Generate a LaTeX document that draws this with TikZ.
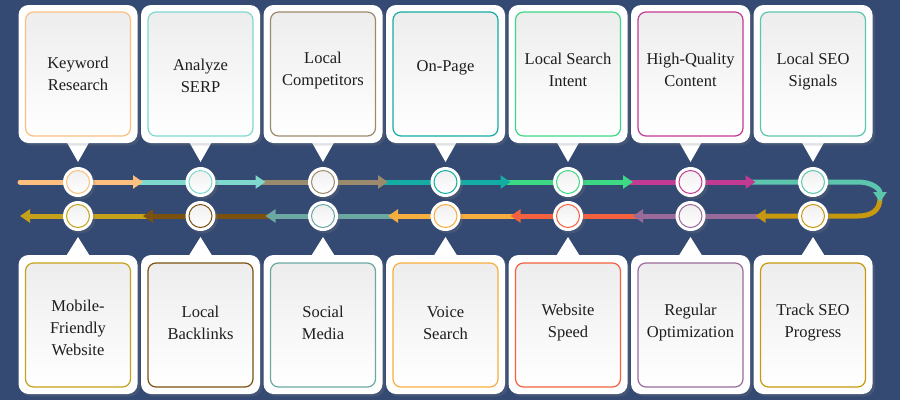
\documentclass[tikz,border=0pt]{standalone}
\usepackage{fontspec}
\setmainfont{Liberation Serif}
\usetikzlibrary{arrows.meta,calc,positioning,shadows}
\definecolor{bgblue}{HTML}{344A72}
\definecolor{textgray}{HTML}{1E1E1E}
\definecolor{cKey}{HTML}{FDBF80}
\definecolor{cSerp}{HTML}{7ED8CE}
\definecolor{cComp}{HTML}{9C8A6C}
\definecolor{cPage}{HTML}{14ADA3}
\definecolor{cIntent}{HTML}{3DD883}
\definecolor{cCont}{HTML}{C23A92}
\definecolor{cSig}{HTML}{5CC6AD}
\definecolor{cTrack}{HTML}{C8980E}
\definecolor{cOpt}{HTML}{9A6B9A}
\definecolor{cSpeed}{HTML}{F4613E}
\definecolor{cVoice}{HTML}{F8AE3E}
\definecolor{cSoc}{HTML}{6BA8A2}
\definecolor{cBack}{HTML}{7B5110}
\definecolor{cMob}{HTML}{C6A11A}
\tikzset{>=latex,
  seg/.style={line width=5pt,-{Triangle[length=10pt,width=13pt]}},
  boxshade/.style={drop shadow={shadow xshift=2.5pt,shadow yshift=-2.5pt,opacity=.22}},
  outerbox/.style={fill=white,rounded corners=10pt,minimum width=119pt,boxshade},
  innerbox/.style={rounded corners=8pt,line width=1.2pt,minimum width=105pt,minimum height=124pt,
    top color=black!7,bottom color=white},
  lbl/.style={align=center,text=textgray,font=\fontsize{16.5}{22}\selectfont},
  stop/.style={circle,fill=white,minimum size=30pt,inner sep=0pt,boxshade}
}
\begin{document}
\begin{tikzpicture}[x=1pt,y=-1pt]
\fill[bgblue] (0,0) rectangle (900,400);
% segment ends of the two arrow rows
\foreach \k in {1,...,6}{
  \coordinate (a\k) at (20.5+122.5*\k,182);
  \coordinate (b\k) at (20.5+122.5*\k,216);
}
\coordinate (a0) at (20,182);
\coordinate (b0) at (20,216);
\coordinate (a7) at (858,182);
\coordinate (b7) at (858,216);
\coordinate (turnA) at (880,202);
\coordinate (turnB) at (880,198);
% lower row, right to left
\draw[seg,cMob] ($(b1)+(4,0)$) -- (b0);
\foreach \j/\i/\c in {2/1/cBack,3/2/cSoc,4/3/cVoice,5/4/cSpeed,6/5/cOpt}
  \draw[seg,\c] ($(b\j)+(4,0)$) -- (b\i);
\draw[seg,cTrack] (turnB) .. controls (880,210) and (872,216) .. (b7) -- (b6);
% upper row, left to right
\draw[seg,cSig] ($(a6)+(-4,0)$) -- (a7) .. controls (872,182) and (880,189) .. (turnA);
\foreach \i/\j/\c in {6/5/cCont,5/4/cIntent,4/3/cPage,3/2/cComp,2/1/cSerp}
  \draw[seg,\c] ($(a\j)+(-4,0)$) -- (a\i);
\draw[seg,cKey,line cap=round] (a0) -- (a1);
% upper boxes
\foreach \i/\c/\dy/\txt in {1/cKey/4/{Keyword\\Research},2/cSerp/6/{Analyze\\SERP},3/cComp/1/{Local\\Competitors},
    4/cPage/-2/{On-Page},5/cIntent/0/{Local Search\\Intent},6/cCont/0/{High-Quality\\Content},7/cSig/2/{Local SEO\\Signals}}{
  \pgfmathsetmacro\cx{78+122.5*(\i-1)}
  \node[stop] (u\i) at (\cx,182) {};
  \draw[\c,line width=1pt,top color=black!6,bottom color=white] (u\i) circle (11.5);
  \fill[white] ($(u\i)+(-12.5,-42)$) -- ($(u\i)+(12.5,-42)$) -- ($(u\i)+(0,-20)$) -- cycle;
  \node[outerbox,minimum height=138pt] (o\i) at (\cx,74) {};
  \node[innerbox,draw=\c] (k\i) at (o\i) {};
  \node[lbl] (t\i) at ($(k\i)+(0,-4+\dy)$) {\txt};
}
% lower boxes
\foreach \i/\c/\dy/\txt in {1/cMob/5/{Mobile-\\Friendly\\Website},2/cBack/0/{Local\\Backlinks},3/cSoc/0/{Social\\Media},
    4/cVoice/0/{Voice\\Search},5/cSpeed/0/{Website\\Speed},6/cOpt/0/{Regular\\Optimization},7/cTrack/0/{Track SEO\\Progress}}{
  \pgfmathsetmacro\cx{78+122.5*(\i-1)}
  \node[stop] (d\i) at (\cx,216) {};
  \draw[\c,line width=1pt,top color=black!6,bottom color=white] (d\i) circle (11.5);
  \fill[white] ($(d\i)+(-12.5,41)$) -- ($(d\i)+(12.5,41)$) -- ($(d\i)+(0,21)$) -- cycle;
  \node[outerbox,minimum height=139pt] (p\i) at (\cx,324.5) {};
  \node[innerbox,draw=\c] (m\i) at (\cx,325) {};
  \node[lbl] (s\i) at ($(m\i)+(0,-2+\dy)$) {\txt};
}
\end{tikzpicture}
\end{document}
